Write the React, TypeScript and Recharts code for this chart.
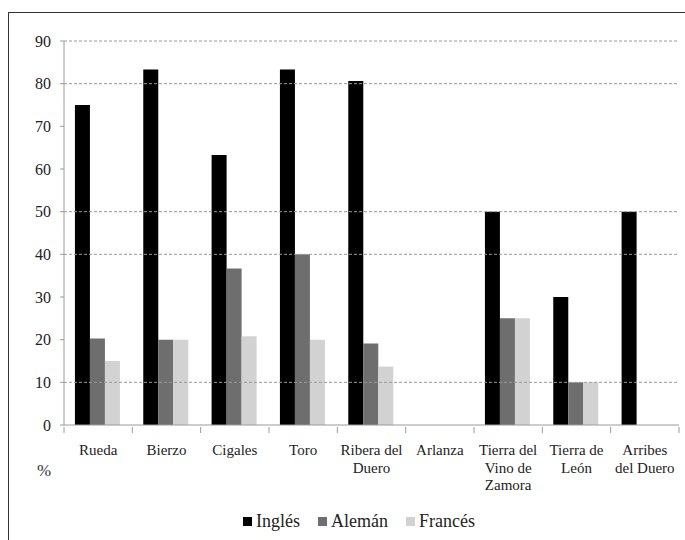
import { BarChart, Bar, XAxis, YAxis, ReferenceLine } from 'recharts'

const categories = [
  'Rueda',
  'Bierzo',
  'Cigales',
  'Toro',
  'Ribera del\nDuero',
  'Arlanza',
  'Tierra del\nVino de\nZamora',
  'Tierra de\nLeón',
  'Arribes\ndel Duero',
]
const ingles = [75, 83.3, 63.3, 83.3, 80.6, 0, 50, 30, 50]
const aleman = [20.3, 20, 36.7, 40, 19.1, 0, 25, 10, 0]
const frances = [15, 20, 20.8, 20, 13.7, 0, 25, 10, 0]
const yTicks = [0, 10, 20, 30, 40, 50, 60, 70, 80, 90]
// only these dashed lines show in the source image
const gridValues = [10, 40, 50, 80, 90]

const series = [
  { key: 'ingles', name: 'Inglés', color: '#000000' },
  { key: 'aleman', name: 'Alemán', color: '#6e6e6e' },
  { key: 'frances', name: 'Francés', color: '#d2d2d2' },
]

const data = categories.map((c, i) => ({
  cat: c,
  ingles: ingles[i],
  aleman: aleman[i],
  frances: frances[i],
}))

const W = 685
const H = 540
const LEFT = 64
const RIGHT = 6
const BAND = (W - LEFT - RIGHT) / categories.length
const FONT = '"Liberation Serif", serif'

const CategoryTick = (props: any) => {
  const { x, y, payload, index } = props
  const lines = String(payload.value).split('\n')
  return (
    <g>
      <line x1={x - BAND / 2} x2={x - BAND / 2} y1={y} y2={y + 6} stroke="#9a9a9a" />
      {index === categories.length - 1 && (
        <line x1={x + BAND / 2} x2={x + BAND / 2} y1={y} y2={y + 6} stroke="#9a9a9a" />
      )}
      <text x={x} y={y + 28} textAnchor="middle" fontSize={15} fill="#222" style={{ fontFamily: FONT }}>
        {lines.map((l, i) => (
          <tspan key={i} x={x} dy={i === 0 ? 0 : 17.5}>
            {l}
          </tspan>
        ))}
      </text>
    </g>
  )
}

export default function App() {
  return (
    <div style={{ position: 'relative', width: W, height: H, background: '#fff', fontFamily: FONT }}>
      <style>{'body{margin:0}'}</style>
      <div
        style={{
          position: 'absolute',
          left: 8,
          top: 12,
          width: W - 8,
          height: H - 12,
          borderLeft: '1.5px solid #333',
          borderTop: '1.5px solid #333',
          boxSizing: 'border-box',
        }}
      />
      <BarChart
        width={W}
        height={H}
        data={data}
        margin={{ top: 41, right: RIGHT, bottom: 0, left: 0 }}
        barGap={0}
        barCategoryGap="16%"
        style={{ position: 'absolute', left: 0, top: 0, fontFamily: FONT }}
      >
        {gridValues.map((v) => (
          <ReferenceLine key={v} y={v} stroke="#9a9a9a" strokeDasharray="3 2" ifOverflow="extendDomain" />
        ))}
        <XAxis
          dataKey="cat"
          height={115}
          interval={0}
          tickLine={false}
          tickSize={0}
          axisLine={{ stroke: '#9a9a9a' }}
          tick={<CategoryTick />}
        />
        <YAxis
          width={LEFT}
          domain={[0, 90]}
          ticks={yTicks}
          interval={0}
          tickSize={4}
          tickMargin={9}
          axisLine={{ stroke: '#9a9a9a' }}
          tickLine={{ stroke: '#9a9a9a' }}
          tick={{ fontSize: 16, fill: '#222', style: { fontFamily: FONT } }}
        />
        {series.map((s) => (
          <Bar key={s.key} dataKey={s.key} name={s.name} fill={s.color} isAnimationActive={false} />
        ))}
      </BarChart>
      <div style={{ position: 'absolute', left: 37, top: 461, fontSize: 17, color: '#333' }}>%</div>
      <div
        style={{
          position: 'absolute',
          left: 243,
          top: 511,
          display: 'flex',
          gap: 18,
          fontSize: 18,
          color: '#222',
        }}
      >
        {series.map((s) => (
          <div key={s.key} style={{ display: 'flex', alignItems: 'center', gap: 4 }}>
            <span style={{ display: 'inline-block', width: 9, height: 9, background: s.color }} />
            <span>{s.name}</span>
          </div>
        ))}
      </div>
    </div>
  )
}
